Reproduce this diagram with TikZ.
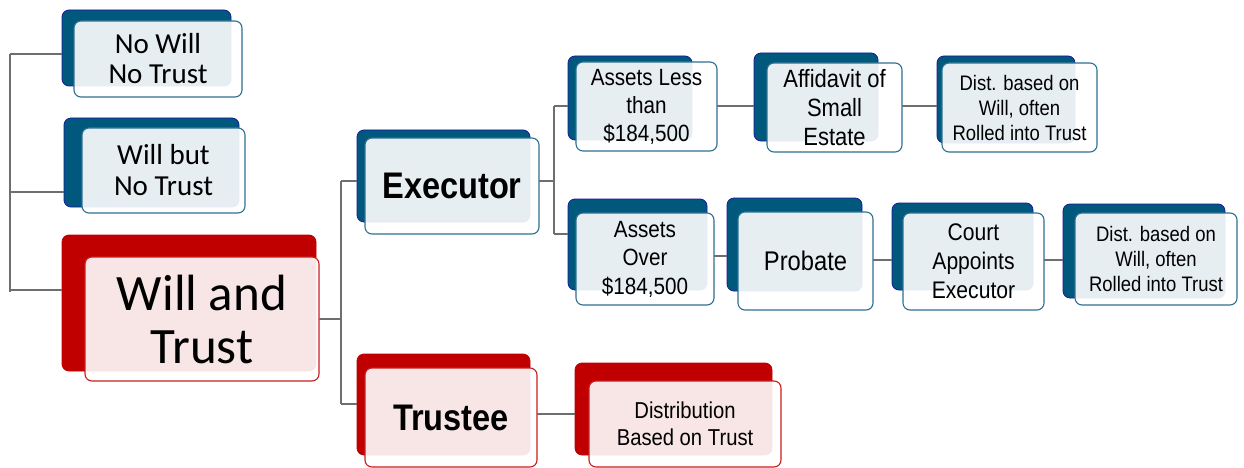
\documentclass[tikz,border=0pt]{standalone}
\usepackage{fontspec}
\setmainfont{Carlito}
\newfontfamily\nar[FakeStretch=0.88]{Liberation Sans}
\definecolor{backblue}{RGB}{0,88,125}
\definecolor{edgeblue}{RGB}{25,25,160}
\definecolor{frontblue}{RGB}{45,112,145}
\definecolor{backred}{RGB}{192,0,0}
\definecolor{frontred}{RGB}{200,30,30}
\definecolor{conn}{RGB}{110,110,110}
\tikzset{
  bluebackbox/.style={fill=backblue,draw=edgeblue,line width=0.8pt,rounded corners=7pt},
  redbackbox/.style={fill=backred,draw=backred,line width=0.8pt,rounded corners=7pt},
  bluefrontbox/.style={fill=white,fill opacity=0.9,text opacity=1,draw=frontblue,line width=1.1pt,rounded corners=7pt,align=center},
  redfrontbox/.style={fill=white,fill opacity=0.9,text opacity=1,draw=frontred,line width=1.1pt,rounded corners=7pt,align=center},
  connline/.style={draw=conn,line width=1.3pt},
}
% \backbox{name}{style}{x1}{y1}{x2}{y2}
\newcommand\backbox[6]{\node[#2,inner sep=0pt,outer sep=0pt,minimum width={#5-#3},minimum height={#6-#4}] (#1) at ({(#3+#5)/2},{(#4+#6)/2}) {};}
% \frontbox{name}{style}{x1}{y1}{x2}{y2}{font}{text}
\newcommand\frontbox[8]{\node[#2,inner sep=0pt,outer sep=0pt,minimum width={#5-#3},minimum height={#6-#4},font={#7}] (#1) at ({(#3+#5)/2},{(#4+#6)/2}) {#8};}
\begin{document}
\begin{tikzpicture}[x=1pt,y=-1pt]
\useasboundingbox (0,0) rectangle (1244,468);
% boxes
\backbox{nwb}{bluebackbox}{62}{10}{231}{86}
\frontbox{nw}{bluefrontbox}{74}{21}{242}{97}{\fontsize{29}{30}\selectfont}{No Will\\No Trust}
\backbox{wbb}{bluebackbox}{64}{118}{239}{207}
\frontbox{wb}{bluefrontbox}{82}{128}{245}{213}{\fontsize{29}{31}\selectfont}{Will but\\No Trust}
\backbox{wtb}{redbackbox}{62}{235}{316}{371}
\frontbox{wt}{redfrontbox}{85}{257}{319}{381}{\fontsize{51}{53}\selectfont}{Will and\\Trust}
\backbox{exb}{bluebackbox}{357}{130}{530}{222}
\frontbox{ex}{bluefrontbox}{365}{138}{539}{234}{\nar\bfseries\fontsize{37}{40}\selectfont}{Executor}
\backbox{trb}{redbackbox}{357}{354}{530}{455}
\frontbox{tr}{redfrontbox}{365}{368}{537}{467}{\nar\bfseries\fontsize{37}{40}\selectfont}{Trustee}
\backbox{alb}{bluebackbox}{568}{56}{692}{140}
\frontbox{al}{bluefrontbox}{576}{62}{717}{151}{\nar\fontsize{23.5}{28}\selectfont}{Assets Less\\than\\\$184,500}
\backbox{aob}{bluebackbox}{568}{199}{707}{290}
\frontbox{ao}{bluefrontbox}{576}{213}{714}{305}{\nar\fontsize{23.5}{28.5}\selectfont}{Assets\\Over\\\$184,500}
\backbox{afb}{bluebackbox}{754}{53}{878}{141}
\frontbox{af}{bluefrontbox}{767}{63}{902}{152}{\nar\fontsize{25}{29}\selectfont}{Affidavit of\\Small\\Estate}
\backbox{daa}{bluebackbox}{937}{56}{1075}{143}
\frontbox{da}{bluefrontbox}{942}{63}{1097}{152}{\nar\fontsize{21}{25}\selectfont}{Dist. based on\\Will, often\\Rolled into Trust}
\backbox{prb}{bluebackbox}{727}{198}{862}{291}
\frontbox{pr}{bluefrontbox}{738}{212}{873}{310}{\nar\fontsize{27}{30}\selectfont}{Probate}
\backbox{ctb}{bluebackbox}{892}{203}{1033}{290}
\frontbox{ct}{bluefrontbox}{903}{213}{1044}{310}{\nar\fontsize{24}{29}\selectfont}{Court\\Appoints\\Executor}
\backbox{dbb}{bluebackbox}{1063}{204}{1225}{298}
\frontbox{db}{bluefrontbox}{1075}{213}{1237}{305}{\nar\fontsize{21}{25}\selectfont}{Dist. based on\\Will, often\\Rolled into Trust}
\backbox{dsb}{redbackbox}{575}{363}{772}{455}
\frontbox{ds}{redfrontbox}{589}{381}{781}{467}{\nar\fontsize{23}{27}\selectfont}{Distribution\\Based on Trust}
% connector coordinates
\coordinate (L1) at (10,54);
\coordinate (L2) at (10,192);
\coordinate (L3) at (10,290);
\coordinate (L0) at (10,292);
\coordinate (M) at (341,319);
\coordinate (M1) at (341,181);
\coordinate (M2) at (341,404);
\coordinate (E) at (554,181);
\coordinate (E1) at (554,106);
\coordinate (E2) at (554,234);
\coordinate (Y1) at (0,256);
\coordinate (Y2) at (0,260);
\coordinate (Y3) at (0,414);
% connectors
\draw[connline] (L1) -- (L0);
\draw[connline] (L1) -- (nwb.west |- L1);
\draw[connline] (L2) -- (wbb.west |- L2);
\draw[connline] (L3) -- (wtb.west |- L3);
\draw[connline] (wt.east |- M) -- (M);
\draw[connline] (M1) -- (M2);
\draw[connline] (M1) -- (exb.west |- M1);
\draw[connline] (M2) -- (trb.west |- M2);
\draw[connline] (ex.east |- E) -- (E);
\draw[connline] (E1) -- (E2);
\draw[connline] (E1) -- (alb.west |- E1);
\draw[connline] (E2) -- (aob.west |- E2);
\draw[connline] (al.east |- E1) -- (afb.west |- E1);
\draw[connline] (af.east |- E1) -- (daa.west |- E1);
\draw[connline] (ao.east |- Y1) -- (prb.west |- Y1);
\draw[connline] (pr.east |- Y2) -- (ctb.west |- Y2);
\draw[connline] (ct.east |- Y2) -- (dbb.west |- Y2);
\draw[connline] (tr.east |- Y3) -- (dsb.west |- Y3);
\end{tikzpicture}
\end{document}
